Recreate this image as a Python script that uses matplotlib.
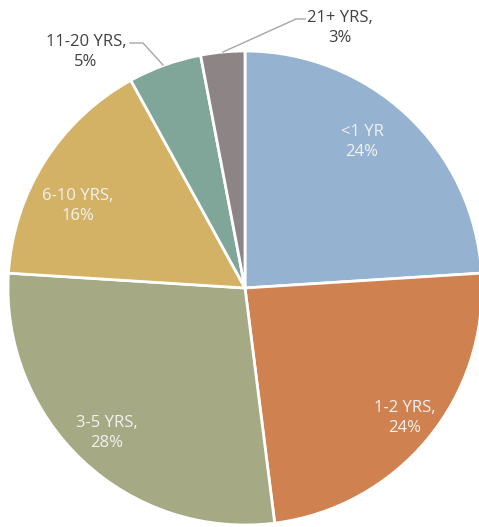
import matplotlib
matplotlib.use("Agg")
import matplotlib.pyplot as plt

labels = ["<1 YR", "1-2 YRS,", "3-5 YRS,", "6-10 YRS,", "11-20 YRS,", "21+ YRS,"]
shares = [24, 24, 28, 16, 5, 3]
colors = ["#95b2d1", "#cf8250", "#a5aa84", "#d4b265", "#7fa699", "#8d8485"]

# label anchors in pixel space (x, y from top)
label_pos = [(362, 142), (405, 418), (107, 433), (78, 206), (86, 52), (340, 28)]
inside = [True, True, True, True, False, False]

W, H = 479, 527
fig = plt.figure(figsize=(W / 100, H / 100), dpi=100)
ax = fig.add_axes([0, 0, 1, 1])

ax.pie(shares, colors=colors, startangle=90, counterclock=False,
       center=(245, H - 288), radius=237, frame=True,
       wedgeprops=dict(edgecolor="white", linewidth=2))
ax.set_xlim(0, W)
ax.set_ylim(0, H)
ax.set_aspect("equal")
ax.axis("off")

for lab, val, (x, y), ins in zip(labels, shares, label_pos, inside):
    col = "#f2f2f2" if ins else "#404040"
    ax.text(x, H - y, f"{lab}\n{val}%", ha="center", va="center",
            fontsize=12, family="Open Sans", color=col, linespacing=1.4)

# leader lines for the two small slices
ax.plot([130, 143, 163], [H - 43, H - 43, H - 65], color="#a6a6a6", lw=1)
ax.plot([223, 296, 305], [H - 52, H - 19, H - 19], color="#a6a6a6", lw=1)

fig.savefig("out.png", dpi=100)
